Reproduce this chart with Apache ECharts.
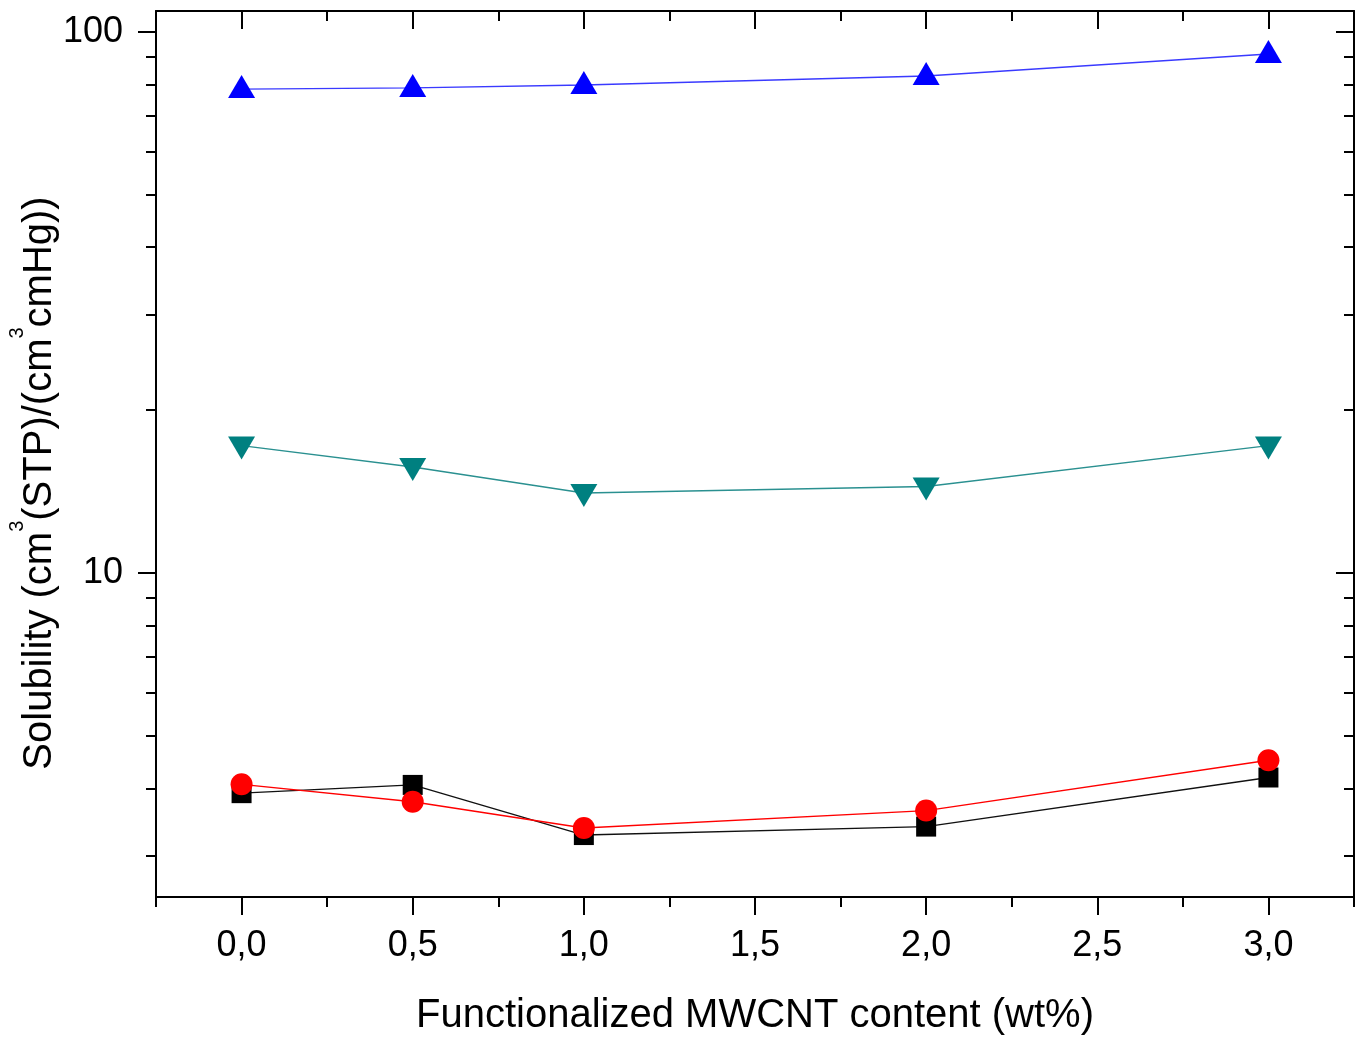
<!DOCTYPE html>
<html>
<head>
<meta charset="utf-8">
<script src="https://cdn.jsdelivr.net/npm/echarts@6/dist/echarts.min.js"></script>
<style>
  html, body { margin: 0; padding: 0; background: #ffffff; }
  #chart { width: 1365px; height: 1043px; }
</style>
</head>
<body>
<div id="chart"></div>
<script>
// MWCNT loading (wt%) and gas solubility, cm3(STP)/(cm3 cmHg)
const contentWt = [0, 0.5, 1.0, 2.0, 3.0];
const solBlack = [3.92, 4.06, 3.28, 3.40, 4.19];
const solRed = [4.07, 3.78, 3.38, 3.64, 4.51];
const solTeal = [17.2, 15.7, 14.06, 14.45, 17.2];
const solBlue = [78.4, 78.8, 79.8, 82.9, 91.0];

// axis ranges and tick positions
const xRange = [-0.25, 3.25];
const yRange = [2.52, 109.3];
const xMajorTicks = [0, 0.5, 1.0, 1.5, 2.0, 2.5, 3.0];
const xMinorTicks = [-0.25, 0.25, 0.75, 1.25, 1.75, 2.25, 2.75, 3.25];
const yMajorTicks = [10, 100];
const yMinorTicks = [3, 4, 5, 6, 7, 8, 9, 20, 30, 40, 50, 60, 70, 80, 90];

const FONT = 'Liberation Sans, Arial, sans-serif';
const lineStyle = { color: '#000', width: 2 };

function xAxisDef(position, ticks, len, inside, opts) {
  return Object.assign({
    type: 'value', position: position, min: xRange[0], max: xRange[1],
    axisLine: { show: false, onZero: false },
    axisTick: { show: true, customValues: ticks, length: len, inside: inside, lineStyle: lineStyle },
    axisLabel: { show: false },
    splitLine: { show: false }
  }, opts || {});
}
function yAxisDef(position, ticks, len, inside, opts) {
  return Object.assign({
    type: 'log', logBase: 10, position: position, min: yRange[0], max: yRange[1],
    axisLine: { show: false, onZero: false },
    axisTick: { show: true, customValues: ticks, length: len, inside: inside, lineStyle: lineStyle },
    axisLabel: { show: false },
    splitLine: { show: false }
  }, opts || {});
}

const chart = echarts.init(document.getElementById('chart'), null, { renderer: 'canvas' });

chart.setOption({
  backgroundColor: '#ffffff',
  animation: false,
  grid: { left: 156, top: 11, width: 1198, height: 886, containLabel: false, outerBoundsMode: 'none' },
  xAxis: [
    xAxisDef('bottom', xMajorTicks, 18, false, {
      axisLine: { show: true, onZero: false, lineStyle: lineStyle },
      axisLabel: {
        show: true, customValues: xMajorTicks, margin: 31,
        fontFamily: FONT, fontSize: 36, color: '#000',
        formatter: v => v.toFixed(1).replace('.', ',')
      },
      name: 'Functionalized MWCNT content (wt%)',
      nameLocation: 'middle', nameGap: 99, nameMoveOverlap: false,
      nameTextStyle: { fontFamily: FONT, fontSize: 40, color: '#000' }
    }),
    xAxisDef('bottom', xMinorTicks, 10, false),
    xAxisDef('top', xMajorTicks, 18, true, {
      axisLine: { show: true, onZero: false, lineStyle: lineStyle }
    }),
    xAxisDef('top', xMinorTicks, 10, true)
  ],
  yAxis: [
    yAxisDef('left', yMajorTicks, 18, false, {
      axisLine: { show: true, onZero: false, lineStyle: lineStyle },
      axisLabel: {
        show: true, customValues: yMajorTicks, margin: 33,
        fontFamily: FONT, fontSize: 36, color: '#000',
        formatter: v => String(Math.round(v))
      },
      name: '{a|Solubility (cm}{s|3}{a|(STP)/(cm}{s|3}{a|cmHg))}',
      nameLocation: 'middle', nameGap: 83, nameMoveOverlap: false,
      nameTextStyle: {
        fontFamily: FONT, fontSize: 40, color: '#000',
        padding: [0, 58, 0, 0],
        rich: {
          a: { fontFamily: FONT, fontSize: 40, color: '#000' },
          s: { fontFamily: FONT, fontSize: 20, color: '#000', padding: [0, 0, 46, 0] }
        }
      }
    }),
    yAxisDef('left', yMinorTicks, 10, false),
    yAxisDef('right', yMajorTicks, 18, true, {
      axisLine: { show: true, onZero: false, lineStyle: lineStyle }
    }),
    yAxisDef('right', yMinorTicks, 10, true)
  ],
  series: [
    {
      type: 'line', name: 'black', xAxisIndex: 0, yAxisIndex: 0,
      data: contentWt.map((x, i) => [x, solBlack[i]]),
      symbol: 'rect', symbolSize: 20,
      itemStyle: { color: '#000000' },
      lineStyle: { color: '#111111', width: 1.4 }
    },
    {
      type: 'line', name: 'red', xAxisIndex: 0, yAxisIndex: 0,
      data: contentWt.map((x, i) => [x, solRed[i]]),
      symbol: 'circle', symbolSize: 22,
      itemStyle: { color: '#ff0000' },
      lineStyle: { color: '#ff0000', width: 1.4 }
    },
    {
      type: 'line', name: 'teal', xAxisIndex: 0, yAxisIndex: 0,
      data: contentWt.map((x, i) => [x, solTeal[i]]),
      symbol: 'triangle', symbolRotate: 180, symbolSize: [27, 23], symbolOffset: [0, 2.5],
      itemStyle: { color: '#008080' },
      lineStyle: { color: '#2a9090', width: 1.4 }
    },
    {
      type: 'line', name: 'blue', xAxisIndex: 0, yAxisIndex: 0,
      data: contentWt.map((x, i) => [x, solBlue[i]]),
      symbol: 'triangle', symbolSize: [27, 23], symbolOffset: [0, -2.5],
      itemStyle: { color: '#0000ff' },
      lineStyle: { color: '#3a3aff', width: 1.4 }
    }
  ]
});
</script>
</body>
</html>
